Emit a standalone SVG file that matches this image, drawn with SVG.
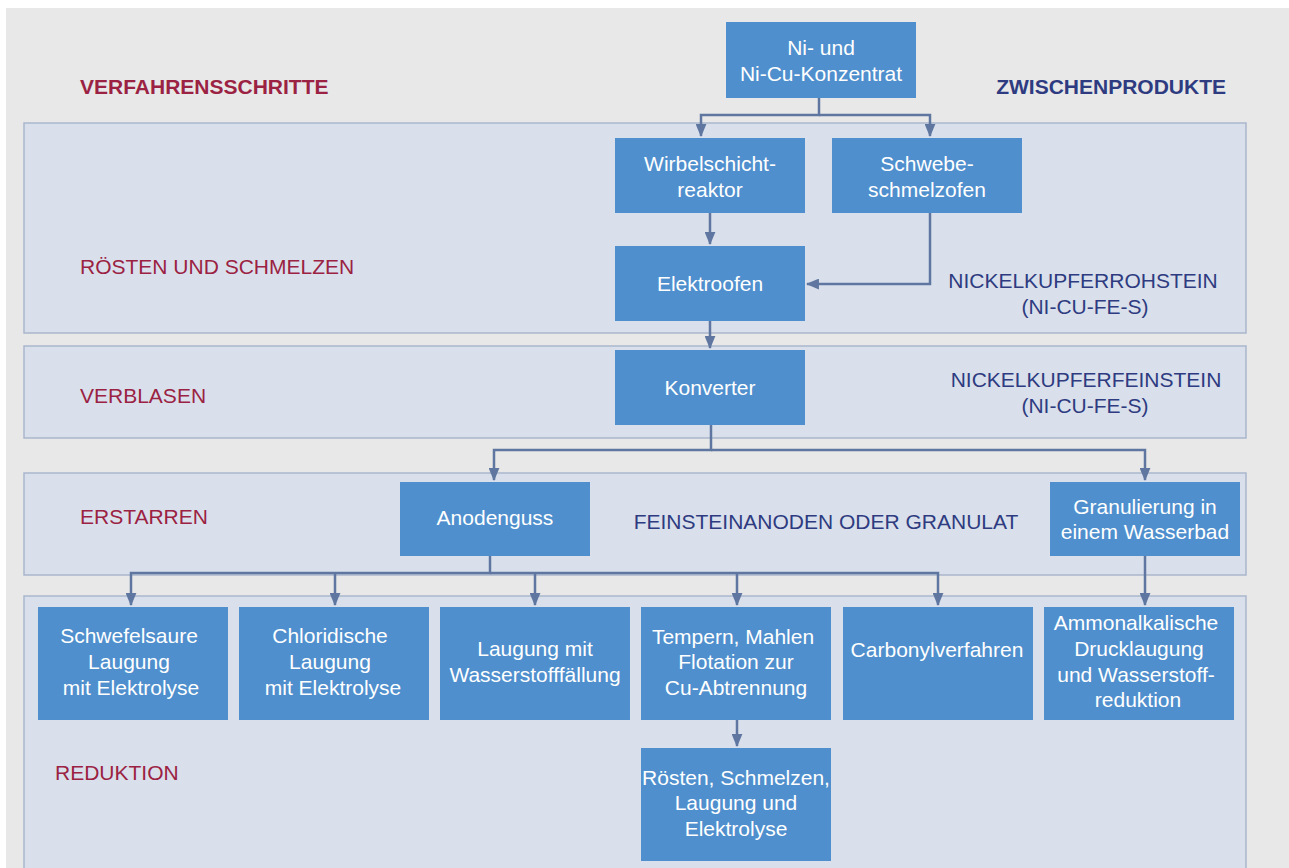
<svg xmlns="http://www.w3.org/2000/svg" width="1289" height="868" viewBox="0 0 1289 868">
<defs>
<style>
.bg{fill:#e8e8e8}
.band{fill:#d9e0ec;stroke:#a9b6cb;stroke-width:1.5}
.node{fill:#4f8fcd}
.nt{font-family:"Liberation Sans",Arial,sans-serif;font-size:21px;fill:#ffffff;text-anchor:middle}
.step{font-family:"Liberation Sans",Arial,sans-serif;font-size:21px;fill:#9b2242}
.prod{font-family:"Liberation Sans",Arial,sans-serif;font-size:21px;fill:#2e3b80}
.hd{font-weight:bold}
.con{fill:none;stroke:#5f77a0;stroke-width:2.5}
</style>
<marker id="ah" viewBox="0 0 12 10" refX="11" refY="5" markerWidth="13" markerHeight="11" markerUnits="userSpaceOnUse" orient="auto">
<path d="M0,0 L12,5 L0,10 Z" fill="#5f77a0"/>
</marker>
</defs>
<rect width="1289" height="868" fill="#ffffff"/>
<rect class="bg" x="6" y="8" width="1283" height="860"/>
<g id="bands">
<rect class="band" x="24" y="123" width="1222" height="210"/>
<rect class="band" x="24" y="346" width="1222" height="92"/>
<rect class="band" x="24" y="473" width="1222" height="102"/>
<rect class="band" x="24" y="596" width="1222" height="280"/>
</g>
<g id="labels">
<text class="step hd" x="80" y="94">VERFAHRENSSCHRITTE</text>
<text class="prod hd" x="1226" y="94" text-anchor="end">ZWISCHENPRODUKTE</text>
<text class="step" x="80" y="274">RÖSTEN UND SCHMELZEN</text>
<text class="step" x="80" y="403">VERBLASEN</text>
<text class="step" x="80" y="524">ERSTARREN</text>
<text class="step" x="55" y="780">REDUKTION</text>
<text class="prod" x="1083" y="288" text-anchor="middle">NICKELKUPFERROHSTEIN</text>
<text class="prod" x="1085" y="314" text-anchor="middle">(NI-CU-FE-S)</text>
<text class="prod" x="1086" y="387" text-anchor="middle">NICKELKUPFERFEINSTEIN</text>
<text class="prod" x="1085" y="413" text-anchor="middle">(NI-CU-FE-S)</text>
<text class="prod" x="826" y="529" text-anchor="middle">FEINSTEINANODEN ODER GRANULAT</text>
</g>
<g id="connectors">
<path class="con" d="M819,98 V115 H701 V136" marker-end="url(#ah)"/>
<path class="con" d="M819,115 H930 V136" marker-end="url(#ah)"/>
<path class="con" d="M710,213 V244" marker-end="url(#ah)"/>
<path class="con" d="M930,213 V284 H807" marker-end="url(#ah)"/>
<path class="con" d="M710,321 V348" marker-end="url(#ah)"/>
<path class="con" d="M711,425 V450 H494 V480" marker-end="url(#ah)"/>
<path class="con" d="M711,450 H1145 V480" marker-end="url(#ah)"/>
<path class="con" d="M490,556 V573 H131 V605" marker-end="url(#ah)"/>
<path class="con" d="M490,573 H938 V605" marker-end="url(#ah)"/>
<path class="con" d="M335,573 V605" marker-end="url(#ah)"/>
<path class="con" d="M535,573 V605" marker-end="url(#ah)"/>
<path class="con" d="M737,573 V605" marker-end="url(#ah)"/>
<path class="con" d="M1145,556 V605" marker-end="url(#ah)"/>
<path class="con" d="M737,720 V746" marker-end="url(#ah)"/>
</g>
<g id="n-konzentrat"><rect class="node" x="726" y="22" width="190" height="76"/><text class="nt" x="821" y="55">Ni- und</text><text class="nt" x="821" y="81">Ni-Cu-Konzentrat</text></g>
<g id="n-wirbel"><rect class="node" x="615" y="138" width="190" height="75"/><text class="nt" x="710" y="171">Wirbelschicht-</text><text class="nt" x="710" y="197">reaktor</text></g>
<g id="n-schwebe"><rect class="node" x="832" y="138" width="190" height="75"/><text class="nt" x="927" y="171">Schwebe-</text><text class="nt" x="927" y="197">schmelzofen</text></g>
<g id="n-elektroofen"><rect class="node" x="615" y="246" width="190" height="75"/><text class="nt" x="710" y="291">Elektroofen</text></g>
<g id="n-konverter"><rect class="node" x="615" y="350" width="190" height="75"/><text class="nt" x="710" y="395">Konverter</text></g>
<g id="n-anodenguss"><rect class="node" x="400" y="482" width="190" height="74"/><text class="nt" x="495" y="525">Anodenguss</text></g>
<g id="n-granulierung"><rect class="node" x="1050" y="482" width="190" height="74"/><text class="nt" x="1145" y="514">Granulierung in</text><text class="nt" x="1145" y="539">einem Wasserbad</text></g>
<g id="n-schwefelsaure"><rect class="node" x="38" y="607" width="190" height="113"/><text class="nt" x="129" y="643">Schwefelsaure</text><text class="nt" x="129" y="669">Laugung</text><text class="nt" x="131" y="695">mit Elektrolyse</text></g>
<g id="n-chloridische"><rect class="node" x="239" y="607" width="190" height="113"/><text class="nt" x="330" y="643">Chloridische</text><text class="nt" x="330" y="669">Laugung</text><text class="nt" x="333" y="695">mit Elektrolyse</text></g>
<g id="n-wasserstoff"><rect class="node" x="440" y="607" width="190" height="113"/><text class="nt" x="535" y="656">Laugung mit</text><text class="nt" x="535" y="682">Wasserstofffällung</text></g>
<g id="n-tempern"><rect class="node" x="641" y="607" width="190" height="113"/><text class="nt" x="733" y="644">Tempern, Mahlen</text><text class="nt" x="736" y="669">Flotation zur</text><text class="nt" x="736" y="695">Cu-Abtrennung</text></g>
<g id="n-carbonyl"><rect class="node" x="843" y="607" width="190" height="113"/><text class="nt" x="937" y="657">Carbonylverfahren</text></g>
<g id="n-ammon"><rect class="node" x="1044" y="607" width="190" height="113"/><text class="nt" x="1136" y="630">Ammonalkalische</text><text class="nt" x="1139" y="656">Drucklaugung</text><text class="nt" x="1136" y="682">und Wasserstoff-</text><text class="nt" x="1138" y="707">reduktion</text></g>
<g id="n-roesten"><rect class="node" x="641" y="748" width="190" height="113"/><text class="nt" x="736" y="785">Rösten, Schmelzen,</text><text class="nt" x="736" y="810">Laugung und</text><text class="nt" x="736" y="836">Elektrolyse</text></g>
</svg>
